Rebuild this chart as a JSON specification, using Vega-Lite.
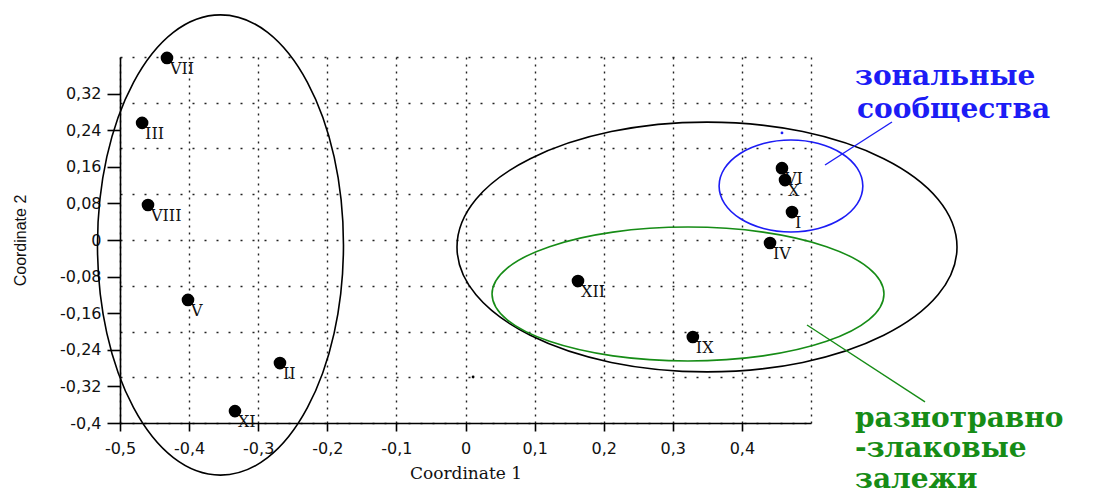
{
  "$schema": "https://vega.github.io/schema/vega-lite/v6.json",
  "width": 691,
  "height": 366,
  "autosize": {"type": "none"},
  "padding": {"left": 120, "top": 57, "right": 302, "bottom": 69},
  "background": "white",
  "config": {
    "view": {"stroke": null},
    "axis": {
      "domainColor": "#000000",
      "domainWidth": 1.6,
      "tickColor": "#000000",
      "tickWidth": 1.6,
      "labelColor": "#111111",
      "labelFont": "DejaVu Sans",
      "labelFontSize": 16,
      "titleColor": "#111111",
      "titleFontWeight": "normal",
      "gridColor": "#222222",
      "gridWidth": 1.4
    }
  },
  "datasets": {
    "pts": [
      {"x": -0.432, "y": 0.398, "label": "VII"},
      {"x": -0.468, "y": 0.256, "label": "III"},
      {"x": -0.4595, "y": 0.0765, "label": "VIII"},
      {"x": -0.4016, "y": -0.131, "label": "V"},
      {"x": -0.2685, "y": -0.269, "label": "II"},
      {"x": -0.3336, "y": -0.374, "label": "XI"},
      {"x": 0.1628, "y": -0.0896, "label": "XII"},
      {"x": 0.329, "y": -0.212, "label": "IX"},
      {"x": 0.4407, "y": -0.0066, "label": "IV"},
      {"x": 0.4725, "y": 0.061, "label": "I"},
      {"x": 0.458, "y": 0.157, "label": "VI"},
      {"x": 0.4624, "y": 0.131, "label": "X"}
    ],
    "ell": [
      {"g": "A", "i": 0, "x": -0.1766, "y": -0.011},
      {"g": "A", "i": 1, "x": -0.1901, "y": 0.1816},
      {"g": "A", "i": 2, "x": -0.2288, "y": 0.3446},
      {"g": "A", "i": 3, "x": -0.2864, "y": 0.4538},
      {"g": "A", "i": 4, "x": -0.3546, "y": 0.492},
      {"g": "A", "i": 5, "x": -0.4228, "y": 0.4538},
      {"g": "A", "i": 6, "x": -0.4804, "y": 0.3446},
      {"g": "A", "i": 7, "x": -0.5191, "y": 0.1816},
      {"g": "A", "i": 8, "x": -0.5326, "y": -0.011},
      {"g": "A", "i": 9, "x": -0.5191, "y": -0.2036},
      {"g": "A", "i": 10, "x": -0.4804, "y": -0.3666},
      {"g": "A", "i": 11, "x": -0.4228, "y": -0.4758},
      {"g": "A", "i": 12, "x": -0.3546, "y": -0.514},
      {"g": "A", "i": 13, "x": -0.2864, "y": -0.4758},
      {"g": "A", "i": 14, "x": -0.2288, "y": -0.3666},
      {"g": "A", "i": 15, "x": -0.1901, "y": -0.2036},
      {"g": "B", "i": 0, "x": 0.7113, "y": -0.0153},
      {"g": "B", "i": 1, "x": 0.6838, "y": 0.0893},
      {"g": "B", "i": 2, "x": 0.6053, "y": 0.1777},
      {"g": "B", "i": 3, "x": 0.4881, "y": 0.237},
      {"g": "B", "i": 4, "x": 0.3495, "y": 0.2577},
      {"g": "B", "i": 5, "x": 0.2109, "y": 0.237},
      {"g": "B", "i": 6, "x": 0.0937, "y": 0.1777},
      {"g": "B", "i": 7, "x": 0.0152, "y": 0.0893},
      {"g": "B", "i": 8, "x": -0.0123, "y": -0.0153},
      {"g": "B", "i": 9, "x": 0.0152, "y": -0.1199},
      {"g": "B", "i": 10, "x": 0.0937, "y": -0.2083},
      {"g": "B", "i": 11, "x": 0.2109, "y": -0.2676},
      {"g": "B", "i": 12, "x": 0.3495, "y": -0.2883},
      {"g": "B", "i": 13, "x": 0.4881, "y": -0.2676},
      {"g": "B", "i": 14, "x": 0.6053, "y": -0.2083},
      {"g": "B", "i": 15, "x": 0.6838, "y": -0.1199},
      {"g": "C", "i": 0, "x": 0.6056, "y": -0.118},
      {"g": "C", "i": 1, "x": 0.584, "y": -0.0619},
      {"g": "C", "i": 2, "x": 0.5225, "y": -0.0145},
      {"g": "C", "i": 3, "x": 0.4306, "y": 0.0173},
      {"g": "C", "i": 4, "x": 0.322, "y": 0.0284},
      {"g": "C", "i": 5, "x": 0.2134, "y": 0.0173},
      {"g": "C", "i": 6, "x": 0.1215, "y": -0.0145},
      {"g": "C", "i": 7, "x": 0.06, "y": -0.0619},
      {"g": "C", "i": 8, "x": 0.0384, "y": -0.118},
      {"g": "C", "i": 9, "x": 0.06, "y": -0.1741},
      {"g": "C", "i": 10, "x": 0.1215, "y": -0.2215},
      {"g": "C", "i": 11, "x": 0.2134, "y": -0.2533},
      {"g": "C", "i": 12, "x": 0.322, "y": -0.2644},
      {"g": "C", "i": 13, "x": 0.4306, "y": -0.2533},
      {"g": "C", "i": 14, "x": 0.5225, "y": -0.2215},
      {"g": "C", "i": 15, "x": 0.584, "y": -0.1741},
      {"g": "D", "i": 0, "x": 0.575, "y": 0.118},
      {"g": "D", "i": 1, "x": 0.5671, "y": 0.1565},
      {"g": "D", "i": 2, "x": 0.5445, "y": 0.1891},
      {"g": "D", "i": 3, "x": 0.5108, "y": 0.2109},
      {"g": "D", "i": 4, "x": 0.471, "y": 0.2185},
      {"g": "D", "i": 5, "x": 0.4312, "y": 0.2109},
      {"g": "D", "i": 6, "x": 0.3975, "y": 0.1891},
      {"g": "D", "i": 7, "x": 0.3749, "y": 0.1565},
      {"g": "D", "i": 8, "x": 0.367, "y": 0.118},
      {"g": "D", "i": 9, "x": 0.3749, "y": 0.0795},
      {"g": "D", "i": 10, "x": 0.3975, "y": 0.0469},
      {"g": "D", "i": 11, "x": 0.4312, "y": 0.0251},
      {"g": "D", "i": 12, "x": 0.471, "y": 0.0175},
      {"g": "D", "i": 13, "x": 0.5108, "y": 0.0251},
      {"g": "D", "i": 14, "x": 0.5445, "y": 0.0469},
      {"g": "D", "i": 15, "x": 0.5671, "y": 0.0795}
    ],
    "ptr": [
      {"g": "D", "i": 0, "x": 0.5203, "y": 0.1639},
      {"g": "D", "i": 1, "x": 0.6172, "y": 0.2579},
      {"g": "C", "i": 0, "x": 0.4942, "y": -0.1858},
      {"g": "C", "i": 1, "x": 0.665, "y": -0.354}
    ],
    "ann": [
      {"g": "D", "x": 0.5637, "y": 0.3388, "t": "зональные"},
      {"g": "D", "x": 0.5666, "y": 0.2667, "t": "сообщества"},
      {"g": "C", "x": 0.5637, "y": -0.4087, "t": "разнотравно"},
      {"g": "C", "x": 0.5637, "y": -0.4743, "t": "-злаковые"},
      {"g": "C", "x": 0.5637, "y": -0.542, "t": "залежи"}
    ],
    "dots": [
      {"g": "D", "x": 0.458, "y": 0.234},
      {"g": "B", "x": 0.011, "y": -0.2995}
    ]
  },
  "encoding": {
    "x": {
      "field": "x",
      "type": "quantitative",
      "scale": {"domain": [-0.5, 0.5], "nice": false, "zero": false},
      "axis": {
        "values": [-0.5, -0.4, -0.3, -0.2, -0.1, 0, 0.1, 0.2, 0.3, 0.4, 0.5],
        "grid": true,
        "gridDash": [2, 5],
        "tickSize": 8,
        "labelPadding": 9,
        "labelFlush": false,
        "labelExpr": "datum.value > 0.45 ? '' : replace(replace(format(datum.value, '.1~f'), '.', ','), '\u2212', '-')",
        "tickOpacity": {"condition": {"test": "datum.value > 0.45", "value": 0}, "value": 1},
        "title": "Coordinate 1",
        "titleFont": "DejaVu Serif",
        "titleFontSize": 17,
        "titlePadding": 9
      }
    },
    "color": {
      "field": "g",
      "type": "nominal",
      "legend": null,
      "scale": {"domain": ["A", "B", "C", "D"], "range": ["#000000", "#000000", "#168c16", "#1c1cf5"]}
    }
  },
  "layer": [
    {
      "data": {"name": "ell"},
      "mark": {"type": "line", "interpolate": "cardinal-closed", "strokeWidth": 1.6, "clip": false},
      "encoding": {
        "y": {
          "field": "y",
          "type": "quantitative",
          "scale": {"domain": [-0.4, 0.4], "nice": false, "zero": false},
          "axis": {
            "orient": "left",
            "values": [-0.4, -0.3, -0.2, -0.1, 0, 0.1, 0.2, 0.3, 0.4],
            "grid": true,
            "gridDash": [2, 10],
            "labels": false,
            "ticks": false,
            "domain": false,
            "title": null
          }
        },
        "detail": {"field": "g"},
        "order": {"field": "i", "type": "quantitative"}
      }
    },
    {
      "data": {"name": "ptr"},
      "mark": {"type": "line", "strokeWidth": 1.4, "clip": false},
      "encoding": {
        "y": {"field": "y", "type": "quantitative", "axis": null},
        "detail": {"field": "g"},
        "order": {"field": "i", "type": "quantitative"}
      }
    },
    {
      "data": {"name": "dots"},
      "mark": {"type": "point", "filled": true, "size": 8, "opacity": 1, "clip": false},
      "encoding": {
        "y": {"field": "y", "type": "quantitative", "axis": null}
      }
    },
    {
      "data": {"name": "pts"},
      "mark": {"type": "text", "align": "left", "baseline": "middle", "dx": 3, "dy": 11, "font": "DejaVu Serif", "fontSize": 16, "clip": false},
      "encoding": {
        "y": {"field": "y", "type": "quantitative", "axis": null},
        "text": {"field": "label"},
        "color": {"value": "#111111"}
      }
    },
    {
      "data": {"name": "pts"},
      "mark": {"type": "point", "shape": "circle", "filled": true, "size": 160, "opacity": 1, "clip": false},
      "encoding": {
        "y": {
          "field": "y",
          "type": "quantitative",
          "axis": {
            "orient": "left",
            "values": [-0.4, -0.32, -0.24, -0.16, -0.08, 0, 0.08, 0.16, 0.24, 0.32],
            "grid": false,
            "tickSize": 13,
            "labelPadding": 6,
            "labelExpr": "replace(replace(format(datum.value, '.2~f'), '.', ','), '\u2212', '-')",
            "title": "Coordinate 2",
            "titleFont": "Liberation Sans",
            "titleFontSize": 16,
            "titlePadding": 31
          }
        },
        "color": {"value": "#000000"}
      }
    },
    {
      "data": {"name": "ann"},
      "mark": {"type": "text", "align": "left", "baseline": "alphabetic", "font": "DejaVu Serif", "fontWeight": "bold", "fontSize": 28, "clip": false},
      "encoding": {
        "y": {"field": "y", "type": "quantitative", "axis": null},
        "text": {"field": "t"}
      }
    }
  ],
  "resolve": {"axis": {"y": "independent"}}
}
